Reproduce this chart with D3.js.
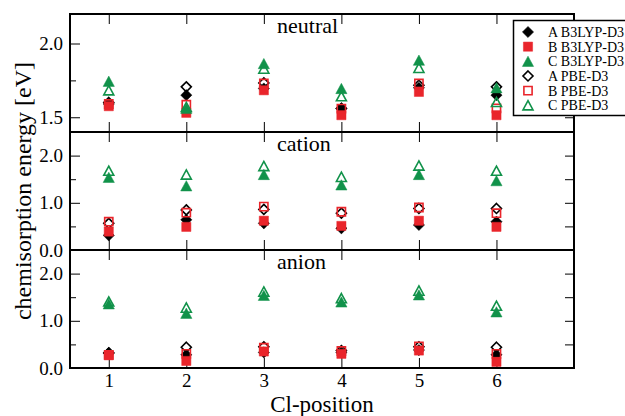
<!DOCTYPE html>
<html><head><meta charset="utf-8">
<script src="https://cdn.jsdelivr.net/npm/d3@7"></script>
<style>body{margin:0;background:#fff} svg{display:block}</style>
</head><body>
<svg id="c" width="625" height="416"></svg>
<script>
// ---- data ----
const positions = [1, 2, 3, 4, 5, 6];
const xTickValues = [1, 2, 3, 4, 5, 6];
const panelNames = ["neutral", "cation", "anion"];
const seriesNames = ["A B3LYP-D3", "B B3LYP-D3", "C B3LYP-D3", "A PBE-D3", "B PBE-D3", "C PBE-D3"];

const neutralA_B3LYP = [1.59, 1.65, 1.695, 1.56, 1.70, 1.65];
const neutralB_B3LYP = [1.575, 1.53, 1.683, 1.514, 1.672, 1.514];
const neutralC_B3LYP = [1.744, 1.56, 1.864, 1.695, 1.887, 1.70];
const neutralA_PBE = [1.60, 1.706, 1.733, 1.56, 1.717, 1.706];
const neutralB_PBE = [1.59, 1.585, 1.729, 1.559, 1.729, 1.56];
const neutralC_PBE = [1.683, 1.57, 1.83, 1.643, 1.835, 1.604];

const cationA_B3LYP = [0.31, 0.64, 0.565, 0.46, 0.53, 0.60];
const cationB_B3LYP = [0.39, 0.49, 0.62, 0.51, 0.62, 0.49];
const cationC_B3LYP = [1.54, 1.36, 1.60, 1.38, 1.60, 1.47];
const cationA_PBE = [0.565, 0.85, 0.86, 0.78, 0.88, 0.88];
const cationB_PBE = [0.60, 0.79, 0.92, 0.81, 0.90, 0.78];
const cationC_PBE = [1.68, 1.60, 1.78, 1.55, 1.79, 1.68];

const anionA_B3LYP = [0.32, 0.28, 0.33, 0.33, 0.38, 0.28];
const anionB_B3LYP = [0.27, 0.15, 0.35, 0.30, 0.37, 0.13];
const anionC_B3LYP = [1.36, 1.16, 1.54, 1.40, 1.55, 1.19];
const anionA_PBE = [0.32, 0.44, 0.45, 0.37, 0.45, 0.44];
const anionB_PBE = [0.28, 0.30, 0.43, 0.36, 0.46, 0.30];
const anionC_PBE = [1.41, 1.28, 1.62, 1.48, 1.64, 1.32];

const yDomains = [[1.4, 2.2], [0, 2.5], [0, 2.5]];
const yMajorTicks = [[1.5, 2.0], [0, 1, 2], [0, 1, 2]];
const yMinorTicks = [[1.75], [0.5, 1.5], [0.5, 1.5]];

const panelData = [
  [neutralA_B3LYP, neutralB_B3LYP, neutralC_B3LYP, neutralA_PBE, neutralB_PBE, neutralC_PBE],
  [cationA_B3LYP, cationB_B3LYP, cationC_B3LYP, cationA_PBE, cationB_PBE, cationC_PBE],
  [anionA_B3LYP, anionB_B3LYP, anionC_B3LYP, anionA_PBE, anionB_PBE, anionC_PBE]
];

// ---- styling ----
const RED = "#e9252b", GREEN = "#11924a", BLACK = "#000";
const seriesStyle = [
  {shape: "diamond", color: BLACK, filled: true},
  {shape: "square", color: RED, filled: true},
  {shape: "triangle", color: GREEN, filled: true},
  {shape: "diamond", color: BLACK, filled: false},
  {shape: "square", color: RED, filled: false},
  {shape: "triangle", color: GREEN, filled: false}
];
const drawOrder = [0, 3, 1, 4, 2, 5];

const symbolTypes = {
  diamond: {draw(ctx, r) { ctx.moveTo(0, -r); ctx.lineTo(r, 0); ctx.lineTo(0, r); ctx.lineTo(-r, 0); ctx.closePath(); }},
  square: {draw(ctx, r) { const h = r * 0.82; ctx.rect(-h, -h, 2 * h, 2 * h); }},
  triangle: {draw(ctx, r) { ctx.moveTo(0, -r * 0.92); ctx.lineTo(r, r * 0.92); ctx.lineTo(-r, r * 0.92); ctx.closePath(); }}
};
function symPath(st) {
  const r = st.filled ? 5.6 : 5.0;
  return d3.symbol().type(symbolTypes[st.shape]).size(r)();
}

const svg = d3.select("#c");
const left = 70, right = 574, top0 = 14, panelH = 118;
const x = d3.scaleLinear().domain([0.5, 7]).range([left, right]);
const font = "'Liberation Serif', 'Times New Roman', serif";

panelData.forEach((series, p) => {
  const y0 = top0 + p * panelH, y1 = y0 + panelH;
  const y = d3.scaleLinear().domain(yDomains[p]).range([y1, y0]);
  const g = svg.append("g");

  const axL = g.append("g").attr("transform", `translate(${left},0)`)
    .call(d3.axisLeft(y).tickValues(yMajorTicks[p]).tickSizeInner(-10).tickSizeOuter(0).tickPadding(7).tickFormat(d3.format(".1f")));
  axL.select(".domain").remove();
  axL.selectAll("text").attr("font-family", font).attr("font-size", 19).attr("fill", "#000");
  const axLm = g.append("g").attr("transform", `translate(${left},0)`)
    .call(d3.axisLeft(y).tickValues(yMinorTicks[p]).tickSizeInner(-6).tickSizeOuter(0).tickFormat(""));
  axLm.select(".domain").remove();
  const axR = g.append("g").attr("transform", `translate(${right},0)`)
    .call(d3.axisRight(y).tickValues(yMajorTicks[p].concat(yMinorTicks[p])).tickSizeInner(-9).tickSizeOuter(0).tickFormat(""));
  axR.select(".domain").remove();
  const axT = g.append("g").attr("transform", `translate(0,${y0})`)
    .call(d3.axisTop(x).tickValues(xTickValues).tickSizeInner(-10).tickSizeOuter(0).tickFormat(""));
  axT.select(".domain").remove();
  const axB = g.append("g").attr("transform", `translate(0,${y1})`)
    .call(d3.axisBottom(x).tickValues(xTickValues).tickSizeInner(-10).tickSizeOuter(0).tickPadding(6)
      .tickFormat(p === 2 ? d3.format("d") : ""));
  axB.select(".domain").remove();
  axB.selectAll("text").attr("font-family", font).attr("font-size", 19).attr("fill", "#000");

  g.append("rect").attr("x", left).attr("y", y0).attr("width", right - left).attr("height", panelH)
    .attr("fill", "none").attr("stroke", "#000").attr("stroke-width", 2);

  g.append("text").attr("x", 277).attr("y", y0 + 19).text(panelNames[p])
    .attr("font-family", font).attr("font-size", 22).attr("fill", "#000");

  drawOrder.forEach(si => {
    const st = seriesStyle[si];
    g.append("g").selectAll("path").data(series[si]).join("path")
      .attr("d", symPath(st))
      .attr("transform", (d, i) => `translate(${x(positions[i])},${y(d)})`)
      .attr("fill", st.filled ? st.color : "none")
      .attr("stroke", st.color)
      .attr("stroke-width", st.filled ? 0.5 : 1.6);
  });
});

svg.append("text").attr("transform", "translate(31,191) rotate(-90)").attr("text-anchor", "middle")
  .attr("font-family", font).attr("font-size", 24).text("chemisorption energy [eV]");
svg.append("text").attr("x", 322).attr("y", 412).attr("text-anchor", "middle")
  .attr("font-family", font).attr("font-size", 23).text("Cl-position");

const lg = svg.append("g");
lg.append("rect").attr("x", 513.5).attr("y", 20.5).attr("width", 130).attr("height", 95)
  .attr("fill", "#fff").attr("stroke", "#000").attr("stroke-width", 1.5);
seriesNames.forEach((name, i) => {
  const yy = 32 + i * 14.65;
  const st = seriesStyle[i];
  lg.append("path").attr("d", symPath(st)).attr("transform", `translate(528,${yy})`)
    .attr("fill", st.filled ? st.color : "none").attr("stroke", st.color)
    .attr("stroke-width", st.filled ? 0.5 : 1.6);
  lg.append("text").attr("x", 548).attr("y", yy + 5).text(name)
    .attr("font-family", font).attr("font-size", 14).attr("fill", "#000");
});
</script>
</body></html>
